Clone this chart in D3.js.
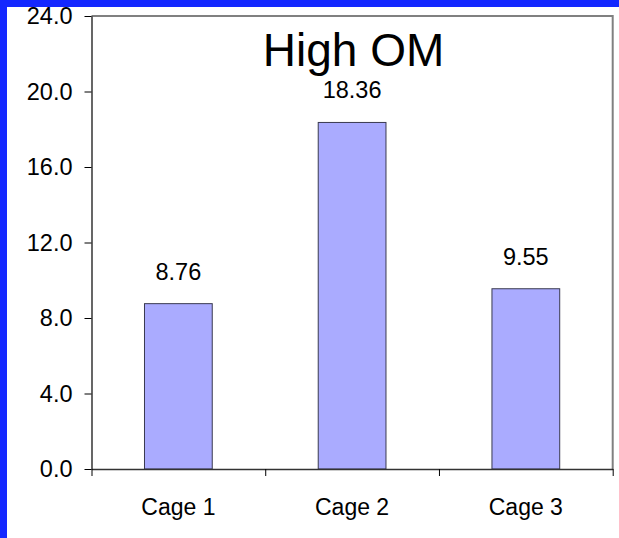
<!DOCTYPE html>
<html>
<head>
<meta charset="utf-8">
<script src="https://cdn.jsdelivr.net/npm/d3@7"></script>
<style>
  html, body { margin: 0; padding: 0; background: #ffffff; }
  svg { display: block; }
  text { font-family: "Liberation Sans", Arial, sans-serif; fill: #000; }
</style>
</head>
<body>
<script>
// Chart data
const categories = ["Cage 1", "Cage 2", "Cage 3"];
const values = [8.76, 18.36, 9.55];
const valueLabels = ["8.76", "18.36", "9.55"];
const yTicks = [0, 4, 8, 12, 16, 20, 24];
const title = "High OM";

const W = 619, H = 538;
const plot = { left: 91.5, right: 612.7, top: 16, bottom: 469 };

const svg = d3.select("body").append("svg")
  .attr("width", W).attr("height", H);

// Blue frame strips along the left and top edges
svg.append("rect").attr("x", 0).attr("y", 0).attr("width", W).attr("height", 7).attr("fill", "#1428ff");
svg.append("rect").attr("x", 0).attr("y", 0).attr("width", 7).attr("height", H).attr("fill", "#1428ff");

const x = d3.scaleBand()
  .domain(categories)
  .range([plot.left, plot.right])
  .paddingInner(0.61)
  .paddingOuter(0.305);

const y = d3.scaleLinear()
  .domain([0, 24])
  .range([plot.bottom, plot.top]);

// Plot-area border (top and right sides)
svg.append("path")
  .attr("d", `M${plot.left},${plot.top}H${plot.right}V${plot.bottom}`)
  .attr("fill", "none")
  .attr("stroke", "#808080")
  .attr("stroke-width", 2);

// Bars
svg.append("g").selectAll("rect")
  .data(values)
  .join("rect")
  .attr("x", (d, i) => x(categories[i]))
  .attr("y", d => y(d))
  .attr("width", x.bandwidth())
  .attr("height", d => y(0) - y(d))
  .attr("fill", "#aaabff")
  .attr("stroke", "#3a3a50")
  .attr("stroke-width", 1);

// Value labels above bars
svg.append("g").selectAll("text")
  .data(values)
  .join("text")
  .attr("x", (d, i) => x(categories[i]) + x.bandwidth() / 2)
  .attr("y", d => y(d) - 24)
  .attr("text-anchor", "middle")
  .attr("font-size", 23.5)
  .text((d, i) => valueLabels[i]);

// Y axis
const yAxis = svg.append("g")
  .attr("transform", `translate(${plot.left},0)`)
  .call(d3.axisLeft(y)
    .tickValues(yTicks)
    .tickFormat(d3.format(".1f"))
    .tickSizeInner(7)
    .tickSizeOuter(0)
    .tickPadding(12));
yAxis.select(".domain").attr("stroke", "#000").attr("stroke-width", 1.2);
yAxis.selectAll(".tick line").attr("stroke", "#000");
yAxis.selectAll(".tick text")
  .attr("font-size", 23.5)
  .attr("font-family", "Liberation Sans, Arial, sans-serif");

// X axis: ticks sit at category boundaries
const xb = d3.scaleLinear().domain([0, categories.length]).range([plot.left, plot.right]);
const xAxis = svg.append("g")
  .attr("transform", `translate(0,${plot.bottom})`)
  .call(d3.axisBottom(xb)
    .tickValues(d3.range(categories.length + 1))
    .tickFormat("")
    .tickSizeInner(7)
    .tickSizeOuter(0));
xAxis.select(".domain").attr("stroke", "#333").attr("stroke-width", 1.6);
xAxis.selectAll(".tick line").attr("stroke", "#000");

// Category labels
svg.append("g").selectAll("text")
  .data(categories)
  .join("text")
  .attr("x", d => x(d) + x.bandwidth() / 2)
  .attr("y", 515)
  .attr("text-anchor", "middle")
  .attr("font-size", 23)
  .text(d => d);

// Title
svg.append("text")
  .attr("x", (plot.left + plot.right) / 2 + 1.5)
  .attr("y", 66)
  .attr("text-anchor", "middle")
  .attr("font-size", 46)
  .text(title);
</script>
</body>
</html>
